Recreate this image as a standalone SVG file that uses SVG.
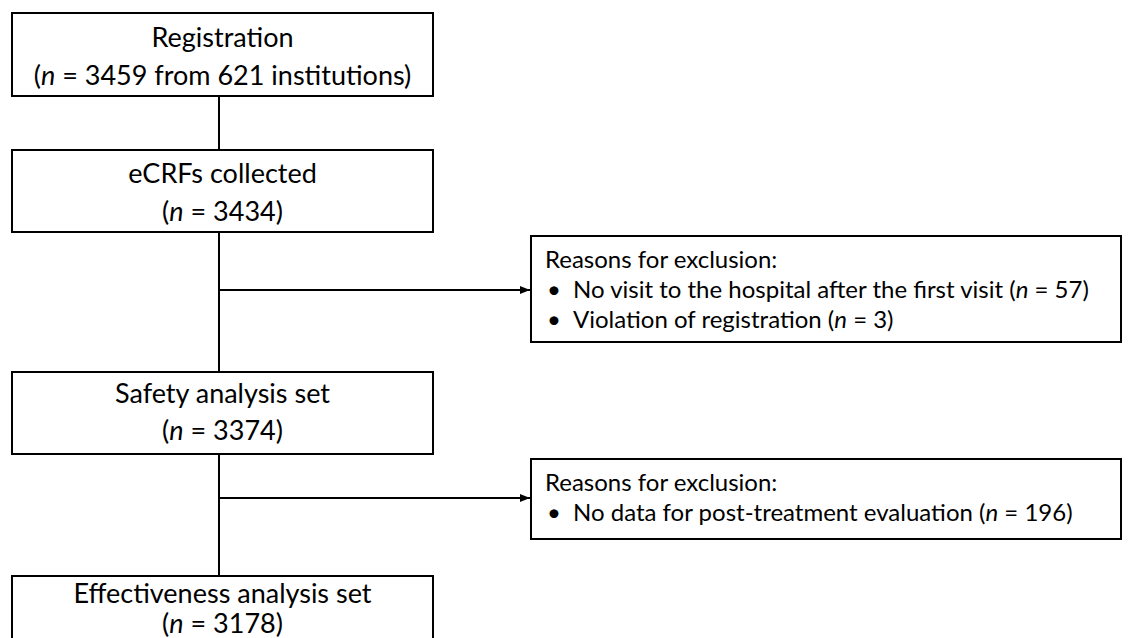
<svg xmlns="http://www.w3.org/2000/svg" width="1131" height="638" viewBox="0 0 1131 638">
<style>
.box{fill:#fff;stroke:#000;stroke-width:2}
.t{font-family:Lato,"Liberation Sans",sans-serif;font-size:27px;fill:#000}
.c{text-anchor:middle}
.e{font-family:Lato,"Liberation Sans",sans-serif;font-size:24px;fill:#000}
.ln{stroke:#000;stroke-width:2;fill:none}
</style>
<defs>
<marker id="ah" markerWidth="10" markerHeight="8" refX="10" refY="4" orient="auto" markerUnits="userSpaceOnUse">
<path d="M0,0 L10,4 L0,8 Z" fill="#000"/>
</marker>
</defs>
<rect width="1131" height="638" fill="#fff"/>
<g id="connectors">
<line class="ln" x1="219" y1="96" x2="219" y2="150"/>
<line class="ln" x1="219" y1="232" x2="219" y2="372"/>
<line class="ln" x1="219" y1="454" x2="219" y2="576"/>
<line class="ln" x1="219" y1="290" x2="530" y2="290" marker-end="url(#ah)"/>
<line class="ln" x1="219" y1="498" x2="530" y2="498" marker-end="url(#ah)"/>
</g>
<g id="registration">
<rect class="box" x="12" y="13" width="421" height="83"/>
<text class="t c" x="222.5" y="47">Registration</text>
<text class="t c" x="222.5" y="85">(<tspan font-style="italic">n</tspan> = 3459 from 621 institutions)</text>
</g>
<g id="ecrfs">
<rect class="box" x="12" y="150" width="421" height="82"/>
<text class="t c" x="222.5" y="183">eCRFs collected</text>
<text class="t c" x="222.5" y="221">(<tspan font-style="italic">n</tspan> = 3434)</text>
</g>
<g id="exclusion1">
<rect class="box" x="531" y="236" width="590" height="106"/>
<text class="e" x="545" y="268">Reasons for exclusion:</text>
<text class="e" x="547" y="298">•</text>
<text class="e" x="573" y="298">No visit to the hospital after the first visit (<tspan font-style="italic">n</tspan> = 57)</text>
<text class="e" x="547" y="328">•</text>
<text class="e" x="573" y="328">Violation of registration (<tspan font-style="italic">n</tspan> = 3)</text>
</g>
<g id="safety">
<rect class="box" x="12" y="372" width="421" height="82"/>
<text class="t c" x="222.5" y="403">Safety analysis set</text>
<text class="t c" x="222.5" y="440">(<tspan font-style="italic">n</tspan> = 3374)</text>
</g>
<g id="exclusion2">
<rect class="box" x="531" y="459" width="590" height="80"/>
<text class="e" x="545" y="491">Reasons for exclusion:</text>
<text class="e" x="547" y="521">•</text>
<text class="e" x="573" y="521">No data for post-treatment evaluation (<tspan font-style="italic">n</tspan> = 196)</text>
</g>
<g id="effectiveness">
<rect class="box" x="12" y="576" width="421" height="82"/>
<text class="t c" x="222.5" y="603">Effectiveness analysis set</text>
<text class="t c" x="222.5" y="633">(<tspan font-style="italic">n</tspan> = 3178)</text>
</g>
</svg>
